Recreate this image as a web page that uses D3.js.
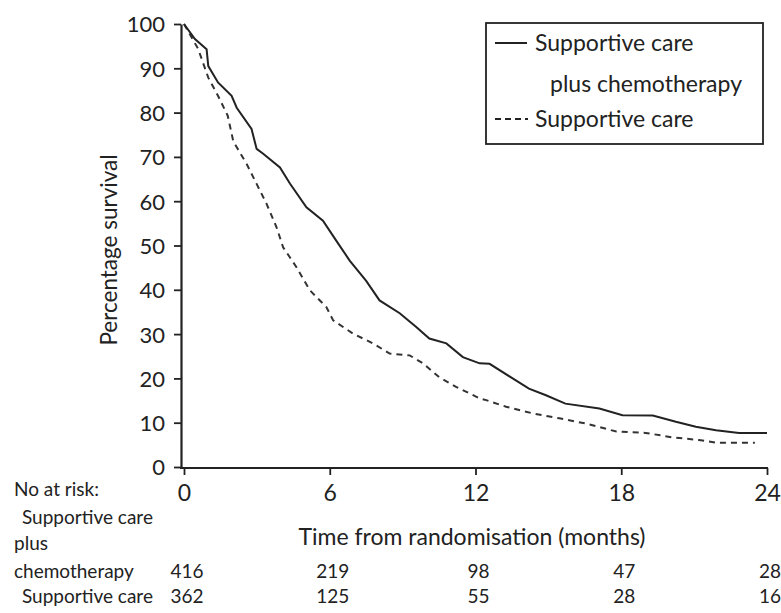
<!DOCTYPE html>
<html>
<head>
<meta charset="utf-8">
<script src="https://cdn.jsdelivr.net/npm/d3@7"></script>
<style>
  body { margin: 0; background: #fff; }
  svg text { font-family: Lato, "Open Sans", sans-serif; fill: #222; }
</style>
</head>
<body>
<div id="chart"></div>
<script>
const w = 781;
const h = 613;

// survival curves (months, percent)
const chemoMonths = [0, 0.45, 0.93, 1.0, 1.4, 1.96, 2.17, 2.78, 2.99, 3.26, 3.95, 4.36, 5.04, 5.72, 6.28, 6.82, 7.5, 8.05, 8.88, 9.56, 10.1, 10.8, 11.48, 12.17, 12.58, 13.53, 14.2, 14.9, 15.7, 17.1, 18.05, 19.3, 20.25, 21.07, 21.9, 22.85, 24];
const chemoSurv = [100, 96.6, 94.3, 90.5, 86.8, 83.8, 81.1, 76.3, 71.8, 70.7, 67.6, 64, 58.6, 55.6, 51, 46.6, 42, 37.6, 34.7, 31.6, 29, 27.9, 24.8, 23.4, 23.3, 20, 17.7, 16.2, 14.3, 13.2, 11.7, 11.6, 10.2, 9.1, 8.3, 7.7, 7.7];

const careMonths = [0, 0.58, 1.0, 1.4, 1.8, 2.03, 2.58, 2.99, 3.4, 3.81, 4.08, 4.63, 5.18, 5.86, 6.14, 6.96, 7.78, 8.47, 9.29, 9.84, 10.5, 11.2, 12.17, 12.44, 13.26, 14.36, 15.45, 16.55, 17.8, 19.0, 20.1, 21.2, 21.9, 23.5];
const careSurv = [100, 94.4, 87.9, 83.8, 79.3, 73.5, 68.4, 63.9, 59.4, 54.1, 49.6, 45.1, 39.9, 36.1, 33.1, 30.1, 27.9, 25.6, 25.2, 23.4, 20.3, 18.1, 15.5, 15.1, 13.6, 12.1, 11, 9.8, 8, 7.7, 6.7, 6.1, 5.5, 5.5];

const xTicks = [0, 6, 12, 18, 24];
const yTicks = [0, 10, 20, 30, 40, 50, 60, 70, 80, 90, 100];
const atRiskChemo = [416, 219, 98, 47, 28];
const atRiskCare = [362, 125, 55, 28, 16];

const svg = d3.select("#chart").append("svg").attr("width", w).attr("height", h);

const x = d3.scaleLinear().domain([0, 24]).range([184, 767]);
const y = d3.scaleLinear().domain([0, 100]).range([467, 24]);

// y axis
const yAxis = d3.axisLeft(y).tickValues(yTicks).tickSize(7).tickPadding(9).tickSizeOuter(0);
const gy = svg.append("g").attr("transform", "translate(181,0)").call(yAxis);
gy.select(".domain").attr("stroke", "#222").attr("stroke-width", 2.2);
gy.selectAll(".tick line").attr("stroke", "#222").attr("stroke-width", 1.8);
gy.selectAll(".tick text").style("font-size", "22px").attr("dy", "0.36em");

// x axis
const xAxis = d3.axisBottom(x).tickValues(xTicks).tickSize(7).tickPadding(10).tickSizeOuter(0);
const gx = svg.append("g").attr("transform", "translate(0,468)").call(xAxis);
gx.select(".domain").attr("d", "M180,0H768").attr("stroke", "#222").attr("stroke-width", 2.2);
gx.selectAll(".tick line").attr("stroke", "#222").attr("stroke-width", 1.8);
gx.selectAll(".tick text").style("font-size", "23px");

// axis titles
svg.append("text")
  .attr("transform", "translate(117,250) rotate(-90)")
  .attr("text-anchor", "middle")
  .style("font-size", "22.5px")
  .text("Percentage survival");

svg.append("text")
  .attr("x", 472).attr("y", 545)
  .attr("text-anchor", "middle")
  .style("font-size", "23px")
  .text("Time from randomisation (months)");

// curves
const line = d3.line().x((d) => x(d[0])).y((d) => y(d[1]));

svg.append("path")
  .datum(careMonths.map((m, i) => [m, careSurv[i]]))
  .attr("d", line)
  .attr("fill", "none")
  .attr("stroke", "#333")
  .attr("stroke-width", 2)
  .attr("stroke-dasharray", "6,5");

svg.append("path")
  .datum(chemoMonths.map((m, i) => [m, chemoSurv[i]]))
  .attr("d", line)
  .attr("fill", "none")
  .attr("stroke", "#222")
  .attr("stroke-width", 2);

// legend
const lg = svg.append("g");
lg.append("rect")
  .attr("x", 486).attr("y", 23).attr("width", 277).attr("height", 121)
  .attr("fill", "#fff").attr("stroke", "#222").attr("stroke-width", 1.8);
lg.append("line").attr("x1", 495).attr("x2", 527).attr("y1", 43).attr("y2", 43)
  .attr("stroke", "#222").attr("stroke-width", 2);
lg.append("line").attr("x1", 495).attr("x2", 528).attr("y1", 119).attr("y2", 119)
  .attr("stroke", "#222").attr("stroke-width", 2).attr("stroke-dasharray", "6,4");
lg.append("text").attr("x", 535).attr("y", 51).style("font-size", "23px").text("Supportive care");
lg.append("text").attr("x", 550).attr("y", 92).style("font-size", "23px").text("plus chemotherapy");
lg.append("text").attr("x", 535).attr("y", 127).style("font-size", "23px").text("Supportive care");

// numbers at risk
const tbl = svg.append("g").style("font-size", "19px");
tbl.append("text").attr("x", 14).attr("y", 496).text("No at risk:");
tbl.append("text").attr("x", 22).attr("y", 524).text("Supportive care");
tbl.append("text").attr("x", 14).attr("y", 550).text("plus");
tbl.append("text").attr("x", 14).attr("y", 578).text("chemotherapy");
tbl.append("text").attr("x", 22).attr("y", 603).text("Supportive care");

tbl.selectAll("text.chemo")
  .data(atRiskChemo)
  .enter()
  .append("text")
  .attr("class", "chemo")
  .attr("x", (d, i) => x(xTicks[i]) + 3)
  .attr("y", 578)
  .attr("text-anchor", "middle")
  .text((d) => d);

tbl.selectAll("text.care")
  .data(atRiskCare)
  .enter()
  .append("text")
  .attr("class", "care")
  .attr("x", (d, i) => x(xTicks[i]) + 3)
  .attr("y", 603)
  .attr("text-anchor", "middle")
  .text((d) => d);
</script>
</body>
</html>
